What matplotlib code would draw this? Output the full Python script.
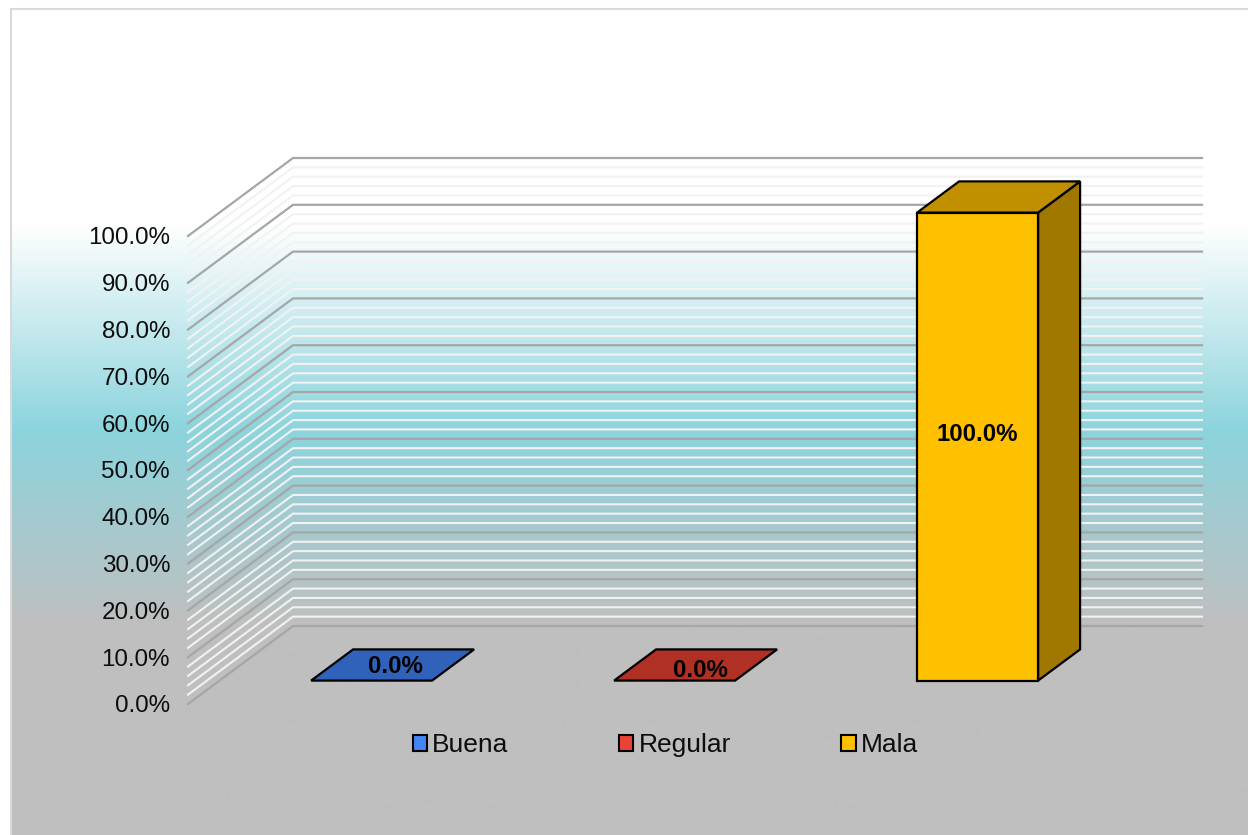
import numpy as np
import matplotlib
matplotlib.use("Agg")
import matplotlib.pyplot as plt
from matplotlib.colors import LinearSegmentedColormap
from matplotlib.patches import Patch, Polygon, Rectangle

plt.rcParams['font.family'] = ['Liberation Sans', 'DejaVu Sans']

categories = ['Buena', 'Regular', 'Mala']
values = [0.0, 0.0, 100.0]
bar_colors = ['#2F62B8', '#B03024', '#FFC000']
top_colors = ['#2F62B8', '#B03024', '#C09000']
side_colors = ['#2F62B8', '#B03024', '#A07800']
legend_colors = ['#4285F4', '#EA4335', '#FFC000']
major_ticks = [0, 10, 20, 30, 40, 50, 60, 70, 80, 90, 100]
minor_ticks = [v for v in range(0, 101, 2) if v % 10 != 0]
label_offsets = [(23.5, 14), (25.5, 10), (0, 12)]  # px from front-face centre

W, H = 1248, 835
X0, BAND, Y0, UNIT = 188.0, 303.0, 704.0, 4.68   # px of plot origin, px per category, px per %
DEPTH_X, DEPTH_Y = 105 / BAND, 78 / UNIT          # full floor depth in data units
BAR_FRONT, BAR_BACK = 0.30, 0.70                  # fraction of floor depth
BAR_W = 121 / BAND

fig = plt.figure(figsize=(W / 100, H / 100), dpi=100, facecolor='white')
ax = fig.add_axes([0, 0, 1, 1])
xlim = (-X0 / BAND - 0.5, (W - X0) / BAND - 0.5)
ylim = ((Y0 - H) / UNIT, Y0 / UNIT)
ax.set_xlim(xlim)
ax.set_ylim(ylim)


def py(p):
    return (Y0 - p) / UNIT


def px(p):
    return (p - X0) / BAND - 0.5


# chart-area gradient and frame
stops = [(0.0, '#FFFFFF'), (225 / H, '#FFFFFF'), (430 / H, '#8CD4DD'),
         (625 / H, '#BFBFBF'), (1.0, '#BFBFBF')]
cmap = LinearSegmentedColormap.from_list('bg', stops, N=835)
grad = np.linspace(0, 1, H).reshape(-1, 1)
im = ax.imshow(grad, cmap=cmap, vmin=0, vmax=1, aspect='auto', extent=(xlim[0], xlim[1], ylim[0], ylim[1]),
               origin='upper', zorder=0)
clip = Rectangle((px(11), py(H + 5)), px(W + 5) - px(11), py(9) - py(H + 5), transform=ax.transData)
im.set_clip_path(clip)
ax.plot([px(11), px(11), px(W + 5)], [py(H + 5), py(9), py(9)], color='#D9D9D9', lw=1.5, zorder=1,
        solid_joinstyle='miter')

# walls: gridlines run front-left -> back-left -> back-right
x_left, x_right = -0.5, 2.5


def gridline(v, **kw):
    ax.plot([x_left, x_left + DEPTH_X, x_right + DEPTH_X], [v, v + DEPTH_Y, v + DEPTH_Y],
            solid_joinstyle='miter', **kw)


for v in minor_ticks:
    gridline(v, color='#F2F2F2', lw=1.5, zorder=2)
for v in major_ticks:
    gridline(v, color='#A6A6A6', lw=1.6, zorder=3)

# oblique bars
for i, val in enumerate(values):
    xl = i - BAR_W / 2 + BAR_FRONT * DEPTH_X + 0.6 / BAND
    xr = xl + BAR_W
    b0 = BAR_FRONT * DEPTH_Y
    t0 = b0 + val
    dx = (BAR_BACK - BAR_FRONT) * DEPTH_X
    dy = (BAR_BACK - BAR_FRONT) * DEPTH_Y
    kw = dict(edgecolor='black', lw=1.6, joinstyle='miter', zorder=5)
    if val > 0:
        ax.add_patch(Polygon([(xr, b0), (xr + dx, b0 + dy), (xr + dx, t0 + dy), (xr, t0)],
                             facecolor=side_colors[i], **kw))
        ax.add_patch(Polygon([(xl, b0), (xr, b0), (xr, t0), (xl, t0)], facecolor=bar_colors[i], **kw))
    ax.add_patch(Polygon([(xl, t0), (xr, t0), (xr + dx, t0 + dy), (xl + dx, t0 + dy)],
                         facecolor=top_colors[i], **kw))
    ax.annotate(f'{val:.1f}%', xy=((xl + xr) / 2, b0 + val / 2), xytext=(label_offsets[i][0] * 0.72, label_offsets[i][1] * 0.72),
                textcoords='offset points', ha='center', va='center', fontsize=17.3, fontweight='bold',
                color='black', zorder=6)

# value axis
ax.spines['left'].set_position(('data', x_left))
for s in ax.spines.values():
    s.set_visible(False)
ax.set_yticks(major_ticks)
ax.set_yticklabels([f'{v:.1f}%' for v in major_ticks], fontsize=17.4, color='#0D0D0D', va='center_baseline')
ax.tick_params(axis='y', length=0, pad=12.9)
ax.set_xticks([])
ax.set_zorder(1)

handles = [Patch(facecolor=c, edgecolor='black', lw=1.5, label=n) for c, n in zip(legend_colors, categories)]
ax.legend(handles=handles, ncol=3, loc='center', bbox_to_anchor=(665.5 / W, 1 - 745 / H), frameon=False,
          fontsize=19, handlelength=0.55, handleheight=0.55, handletextpad=0.2, columnspacing=4.18,
          labelcolor='#0D0D0D')

fig.savefig('out.png', dpi=100)
